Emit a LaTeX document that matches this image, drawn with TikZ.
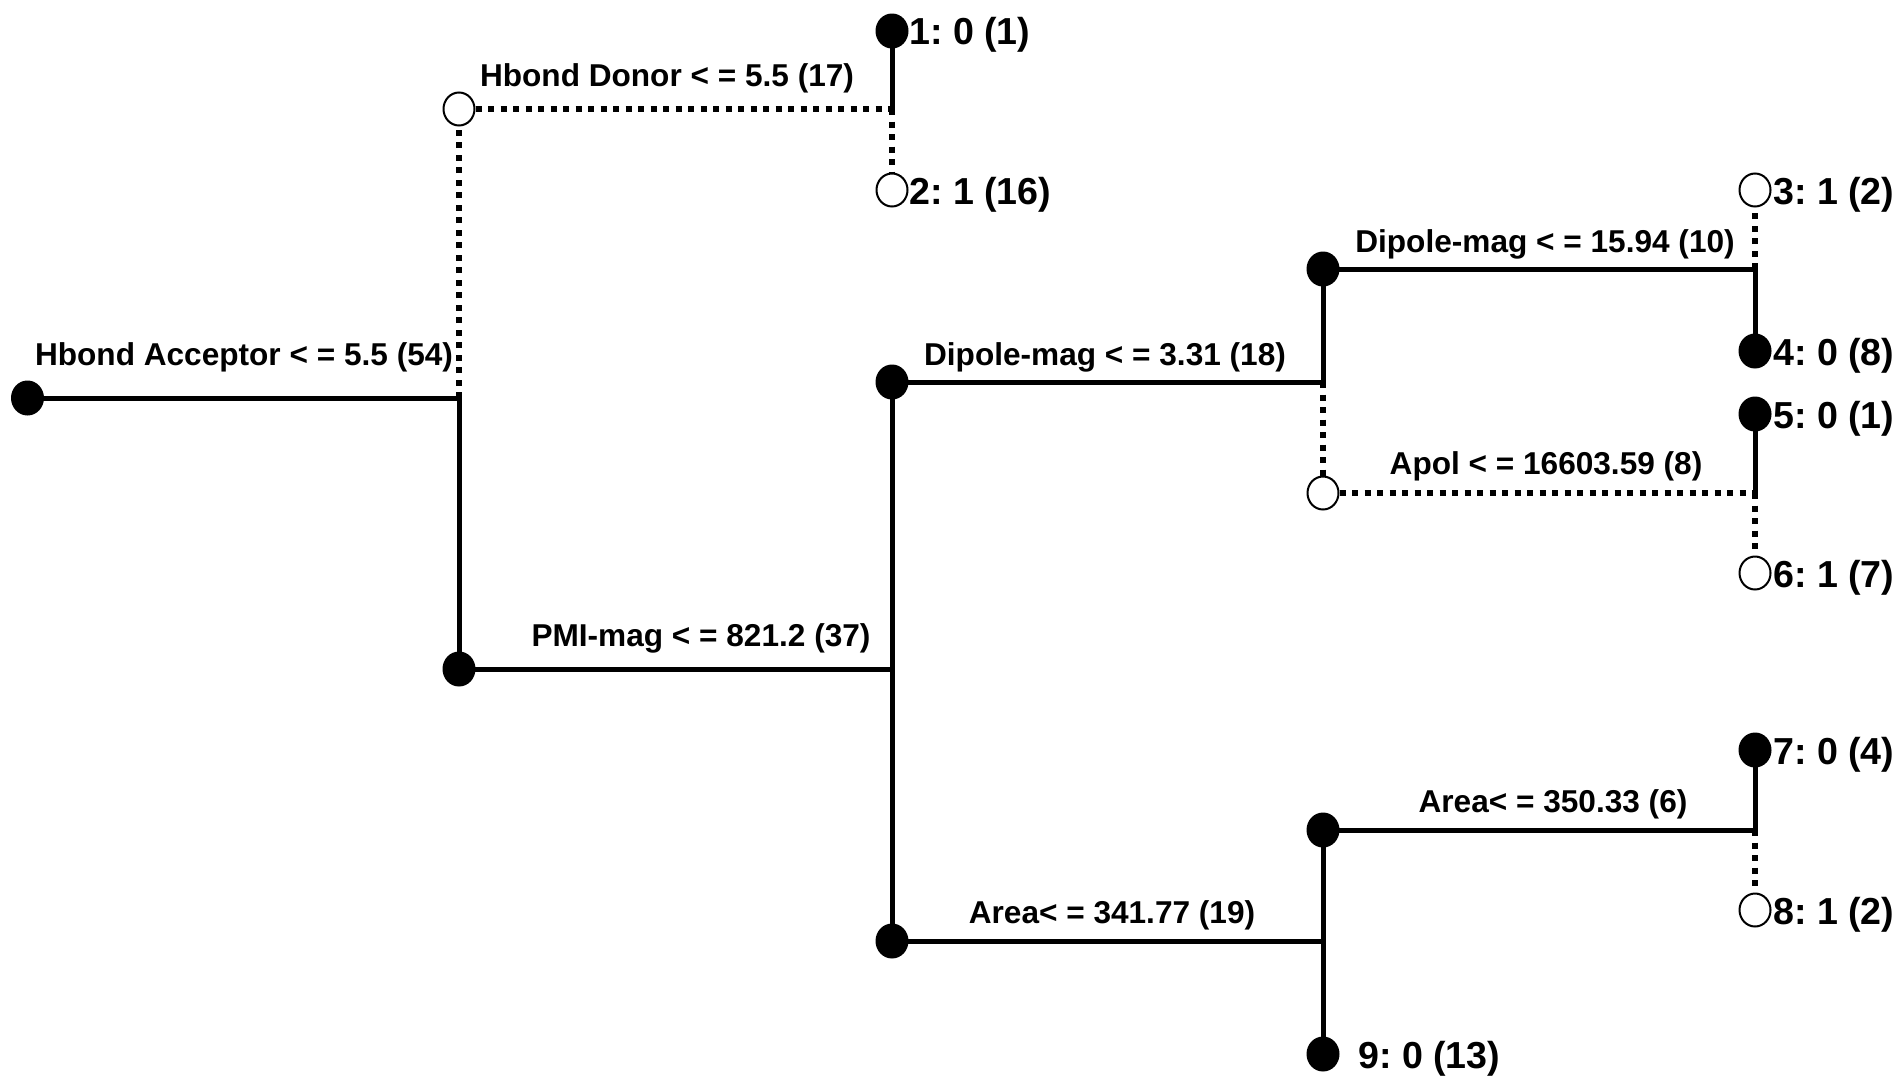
\documentclass[tikz,border=0pt]{standalone}
\usepackage{fontspec}
\setmainfont{Liberation Sans}
\usetikzlibrary{shapes.geometric}
\frenchspacing
\begin{document}
\begin{tikzpicture}[x=1pt,y=-1pt,
  full/.style={ellipse,fill=black,minimum width=33pt,minimum height=35pt,inner sep=0pt},
  hollow/.style={ellipse,draw=black,line width=2pt,fill=white,minimum width=31pt,minimum height=33pt,inner sep=0pt},
  solidedge/.style={line width=5pt,line cap=rect},
  dotedge/.style={line width=5.5pt,dash pattern=on 6pt off 6.5pt},
  splitlab/.style={inner sep=0pt,font=\fontsize{31.6}{36}\selectfont\bfseries},
  leaflab/.style={inner sep=0pt,anchor=west,font=\fontsize{37.6}{43}\selectfont\bfseries\frenchspacing}]
\useasboundingbox (0,0) rectangle (1900,1076);
% internal nodes
\node[full] (root) at (27.5,398) {};
\node[hollow] (n1) at (459,109) {};
\node[full] (n2) at (459,669) {};
\node[full] (n3) at (892,382) {};
\node[full] (n4) at (1323,269) {};
\node[hollow] (n5) at (1323,493) {};
\node[full] (n6) at (892,941) {};
\node[full] (n7) at (1323,830) {};
% leaves
\node[full] (l1) at (892,31) {};
\node[hollow] (l2) at (892,190) {};
\node[hollow] (l3) at (1755,190) {};
\node[full] (l4) at (1755,351) {};
\node[full] (l5) at (1755,414) {};
\node[hollow] (l6) at (1755,573) {};
\node[full] (l7) at (1755,750) {};
\node[hollow] (l8) at (1755,910) {};
\node[full] (l9) at (1323,1054) {};
% junctions
\coordinate (j0) at (459,398);
\coordinate (j1) at (892,109);
\coordinate (j2) at (892,669);
\coordinate (j3) at (1323,382);
\coordinate (j4) at (1755,269);
\coordinate (j5) at (1755,493);
\coordinate (j6) at (1323,941);
\coordinate (j7) at (1755,830);
% edges
\draw[solidedge] (root) -- (j0);
\draw[dotedge] (j0) -- (n1);
\draw[solidedge] (j0) -- (n2);
\draw[dotedge] (n1) -- (j1);
\draw[solidedge] (j1) -- (l1);
\draw[dotedge] (j1) -- (l2);
\draw[solidedge] (n2) -- (j2);
\draw[solidedge] (n3) -- (n6);
\draw[solidedge] (n3) -- (j3);
\draw[solidedge] (j3) -- (n4);
\draw[dotedge] (j3) -- (n5);
\draw[solidedge] (n4) -- (j4);
\draw[dotedge] (j4) -- (l3);
\draw[solidedge] (j4) -- (l4);
\draw[dotedge] (n5) -- (j5);
\draw[solidedge] (j5) -- (l5);
\draw[dotedge] (j5) -- (l6);
\draw[solidedge] (n6) -- (j6);
\draw[solidedge] (n7) -- (l9);
\draw[solidedge] (n7) -- (j7);
\draw[solidedge] (j7) -- (l7);
\draw[dotedge] (j7) -- (l8);
% split labels
\node[splitlab] (t0) at (244,357) {Hbond Acceptor < = 5.5 (54)};
\node[splitlab] (t1) at (667,78) {Hbond Donor < = 5.5 (17)};
\node[splitlab] (t2) at (701,638) {PMI-mag < = 821.2 (37)};
\node[splitlab] (t3) at (1105,357) {Dipole-mag < = 3.31 (18)};
\node[splitlab] (t4) at (1545,244) {Dipole-mag < = 15.94 (10)};
\node[splitlab] (t5) at (1546,466) {Apol < = 16603.59 (8)};
\node[splitlab] (t6) at (1112,915) {Area< = 341.77 (19)};
\node[splitlab] (t7) at (1553,804) {Area< = 350.33 (6)};
% leaf labels
\node[leaflab] (a1) at (909,35) {1: 0 (1)};
\node[leaflab] (a2) at (909,195) {2: 1 (16)};
\node[leaflab] (a3) at (1773,195) {3: 1 (2)};
\node[leaflab] (a4) at (1773,356) {4: 0 (8)};
\node[leaflab] (a5) at (1773,419) {5: 0 (1)};
\node[leaflab] (a6) at (1773,578) {6: 1 (7)};
\node[leaflab] (a7) at (1773,755) {7: 0 (4)};
\node[leaflab] (a8) at (1773,915) {8: 1 (2)};
\node[leaflab] (a9) at (1358,1059) {9: 0 (13)};
\end{tikzpicture}
\end{document}
